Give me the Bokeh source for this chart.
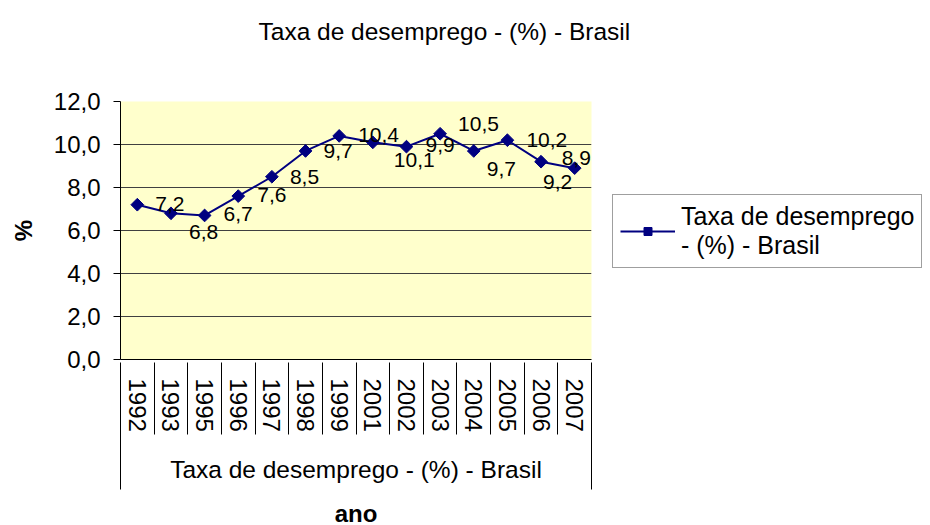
import math
from bokeh.plotting import figure
from bokeh.models import (ColumnDataSource, FactorRange, Range1d, LinearAxis,
                          FixedTicker, Legend, LegendItem, Title)
from bokeh.core.properties import value
from bokeh.embed import file_html
from bokeh.resources import INLINE

# ---------------- data ----------------
title_text = "Taxa de desemprego - (%) - Brasil"
series_name = "Taxa de desemprego - (%) - Brasil"
legend_label = "Taxa de desemprego\n- (%) - Brasil"
years = ["1992", "1993", "1995", "1996", "1997", "1998", "1999",
         "2001", "2002", "2003", "2004", "2005", "2006", "2007"]
rates = [7.2, 6.8, 6.7, 7.6, 8.5, 9.7, 10.4, 10.1, 9.9, 10.5, 9.7, 10.2, 9.2, 8.9]
rate_labels = [f"{v:.1f}".replace(".", ",") for v in rates]
y_ticks = [0, 2, 4, 6, 8, 10, 12]
y_tick_labels = ["0,0", "2,0", "4,0", "6,0", "8,0", "10,0", "12,0"]
x_axis_title = "ano"
y_axis_title = "%"

# data-label nudges (screen pixels, as placed in the original chart)
label_dx = [18, 18, 19, 19, 18, 18, 19, 21, 19, 18, 13, 19, 2, -13]
label_dy = [-1, 19, -1, -1, 0, 0, -1, 18, -2, -10, 18, 0, 20, -10]

FONT = "Liberation Sans"
NAVY = "#000080"

src = ColumnDataSource(dict(year=years, rate=rates, label=rate_labels,
                            dx=label_dx, dy=label_dy))

p = figure(x_range=FactorRange(factors=years), y_range=Range1d(0, 12),
           frame_width=471, frame_height=258,
           min_border_left=120, min_border_top=101, min_border_right=339,
           min_border_bottom=0,
           output_backend="svg", toolbar_location=None,
           background_fill_color="#FFFFCC", border_fill_color="white",
           outline_line_color=None)
p.title = None

xax = p.below[0]
yax = p.left[0]

# title: two blank lines below it keep the gap to the plot area
title = Title(text=title_text + "\n\n", text_font=FONT, text_font_size="24.5px",
              text_font_style="normal", text_color="black",
              align="left", offset=138, standoff=6)
p.add_layout(title, "above")

# y axis
yax.ticker = FixedTicker(ticks=y_ticks)
yax.major_label_overrides = {t: l for t, l in zip(y_ticks, y_tick_labels)}
yax.major_label_text_font = FONT
yax.major_label_text_font_size = "24px"
yax.major_label_text_color = "black"
yax.major_tick_out = 7
yax.major_tick_in = 0
yax.major_tick_line_color = "black"
yax.minor_tick_line_color = None
yax.major_label_standoff = 13
yax.axis_line_color = "black"
yax.axis_label = y_axis_title
yax.axis_label_text_font = FONT
yax.axis_label_text_font_size = "24px"
yax.axis_label_text_font_style = "bold"
yax.axis_label_text_color = "black"
yax.axis_label_standoff = 14

p.ygrid.grid_line_color = "#404040"
p.ygrid.grid_line_width = 1
p.xgrid.grid_line_color = None

# category (year) axis
xax.major_label_orientation = "vertical"
xax.major_label_text_font = FONT
xax.major_label_text_font_size = "24px"
xax.major_label_text_color = "black"
xax.major_label_standoff = 19
xax.major_tick_line_color = None
xax.major_tick_out = 0
xax.major_tick_in = 0
xax.axis_line_color = "black"

# separator / group-label axis: ticks on the category boundaries
boundaries = list(range(0, len(years) + 1))
sep_axis = LinearAxis(ticker=FixedTicker(ticks=boundaries),
                      major_label_overrides={b: "" for b in boundaries},
                      major_tick_in=72, major_tick_out=0,
                      major_tick_line_color="black",
                      minor_tick_line_color=None,
                      axis_line_color=None,
                      major_label_text_font_size="1px",
                      major_label_standoff=0,
                      axis_label=series_name,
                      axis_label_text_font=FONT,
                      axis_label_text_font_size="24.5px",
                      axis_label_text_font_style="normal",
                      axis_label_text_color="black",
                      axis_label_standoff=21)
p.add_layout(sep_axis, "below")

outer_ticks = [boundaries[0], boundaries[-1]]
outer_axis = LinearAxis(ticker=FixedTicker(ticks=outer_ticks),
                        major_label_overrides={b: "" for b in outer_ticks},
                        major_tick_in=60, major_tick_out=4,
                        major_tick_line_color="black",
                        minor_tick_line_color=None,
                        axis_line_color=None,
                        major_label_text_font_size="1px",
                        major_label_standoff=0,
                        axis_label=x_axis_title,
                        axis_label_text_font=FONT,
                        axis_label_text_font_size="24px",
                        axis_label_text_font_style="bold",
                        axis_label_text_color="black",
                        axis_label_standoff=10)
p.add_layout(outer_axis, "below")

# series
line_r = p.line("year", "rate", source=src, line_color=NAVY, line_width=2)
pts_r = p.scatter("year", "rate", source=src, marker="square", angle=math.pi / 4,
                  size=9, fill_color=NAVY, line_color=NAVY)
p.text("year", "rate", text="label", source=src, x_offset="dx", y_offset="dy",
       text_align="left", text_baseline="middle", text_font=value(FONT),
       text_font_size="21px", text_color="black")

legend = Legend(items=[LegendItem(label=legend_label, renderers=[line_r, pts_r])],
                location=(21, 91), margin=0, padding=7, spacing=0,
                glyph_width=55, glyph_height=20, label_standoff=6,
                label_text_font=FONT, label_text_font_size="25px",
                label_text_color="black",
                border_line_color="#404040", border_line_width=1.5,
                background_fill_color="white", background_fill_alpha=1)
p.add_layout(legend, "right")

open("out.html", "w").write(file_html(p, INLINE))
